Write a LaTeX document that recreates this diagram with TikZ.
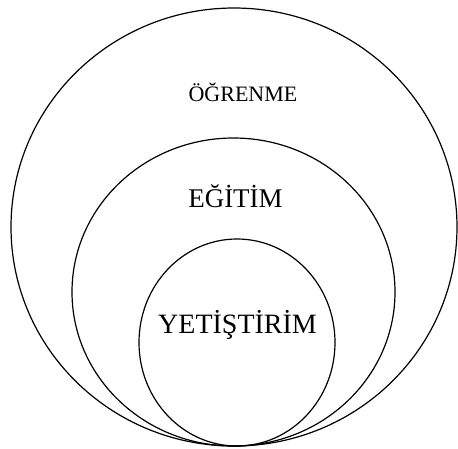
\documentclass[tikz,border=0pt]{standalone}
\usepackage{fontspec}
\setmainfont{Liberation Serif}
\begin{document}
\begin{tikzpicture}[x=1pt,y=-1pt,
  ring/.style={line width=1.2pt},
  lbl/.style={anchor=base, inner sep=0pt}]
\useasboundingbox (0,0) rectangle (458,448);
\draw[ring] (234,227) ellipse [x radius=223, y radius=219];
\draw[ring] (233.5,292) ellipse [x radius=161.5, y radius=154];
\draw[ring] (237,342.5) ellipse [x radius=98, y radius=103.5];
\node[lbl, font=\fontsize{22}{22}\selectfont] (ogr) at (243,101) {ÖĞRENME};
\node[lbl, font=\fontsize{27}{27}\selectfont] (egi) at (235.5,207) {EĞİTİM};
\node[lbl, font=\fontsize{28}{28}\selectfont] (yet) at (237.5,333) {YETİŞTİRİM};
\end{tikzpicture}
\end{document}
